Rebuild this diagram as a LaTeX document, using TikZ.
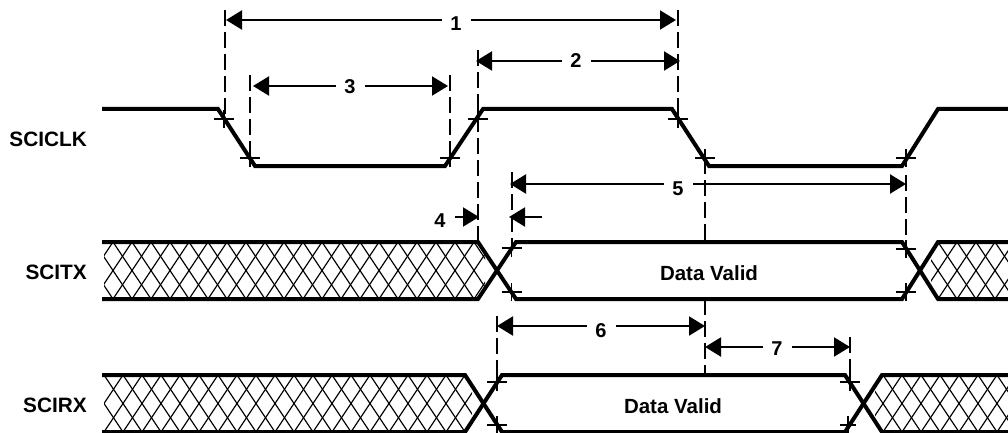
\documentclass[tikz,border=0pt]{standalone}
\usepackage{fontspec}
\setmainfont{Liberation Sans}
\usetikzlibrary{arrows.meta}
\tikzset{
  wave/.style={line width=4pt,line join=miter,line cap=butt},
  guide/.style={line width=2pt,dash pattern=on 16pt off 6pt},
  tickmark/.style={line width=1.6pt},
  hatchline/.style={line width=1.2pt,black},
  dim/.style={line width=2pt,-{Triangle[length=16pt,width=19pt]}},
  dimboth/.style={line width=2pt,{Triangle[length=16pt,width=19pt]}-{Triangle[length=16pt,width=19pt]}},
  numlabel/.style={fill=white,inner sep=0pt,minimum width=29pt,minimum height=20pt,font=\fontsize{20}{20}\bfseries},
  plainlabel/.style={inner sep=0pt,font=\fontsize{20}{20}\bfseries},
  siglabel/.style={anchor=east,inner sep=0pt,font=\fontsize{20.8}{21}\bfseries},
  datalabel/.style={inner sep=0pt,font=\fontsize{20.5}{21}\bfseries},
}
\newcommand{\tickat}[3]{\draw[tickmark] (#1-#3,#2)--(#1+#3,#2) (#1,#2-9)--(#1,#2+9);}
\newcommand{\hatch}[2]{%
  \pgfmathsetmacro{\ybot}{#1+57}%
  \foreach \k in {-4,...,52}{%
    \pgfmathsetmacro{\xa}{#2+19*\k}%
    \pgfmathsetmacro{\xb}{\xa+38}%
    \draw[hatchline] (\xa,#1)--(\xb,\ybot) (\xb,#1)--(\xa,\ybot);
  }}
\begin{document}
\begin{tikzpicture}[x=1pt,y=-1pt]
\useasboundingbox (0,0) rectangle (1008,433);
% hatching
\begin{scope}
  \clip (104,242)--(478,242)--(485,253)--(485,288)--(478,299)--(104,299)--cycle;
  \hatch{242}{113}
\end{scope}
\begin{scope}
  \clip (1008,242)--(938,242)--(931,253)--(931,288)--(938,299)--(1008,299)--cycle;
  \hatch{242}{102}
\end{scope}
\begin{scope}
  \clip (104,375)--(465,375)--(472,386)--(472,421)--(465,432)--(104,432)--cycle;
  \hatch{375}{104}
\end{scope}
\begin{scope}
  \clip (1008,375)--(882,375)--(875,386)--(875,421)--(882,432)--(1008,432)--cycle;
  \hatch{375}{104}
\end{scope}
% guides
\coordinate (g1t) at (224.5,10); \coordinate (g1b) at (224.5,118);
\coordinate (g3t) at (250,75);  \coordinate (g3b) at (250,158);
\coordinate (g3rt) at (450,75); \coordinate (g3rb) at (450,158);
\coordinate (g2t) at (478,50);  \coordinate (g2b) at (478,240);
\coordinate (g1rt) at (678,10); \coordinate (g1rb) at (678,119);
\coordinate (g5t) at (705,158);  \coordinate (g5m) at (705,242);
\coordinate (g5n) at (705,299);  \coordinate (g5b) at (705,375);
\coordinate (g4t) at (511.5,172); \coordinate (g4b) at (511.5,248);
\coordinate (g5rt) at (906,175); \coordinate (g5rb) at (906,249);
\coordinate (g6t) at (497,316); \coordinate (g6b) at (497,382);
\coordinate (g7t) at (850,337); \coordinate (g7b) at (850,382);
\foreach \a/\b in {g1t/g1b,g3t/g3b,g3rt/g3rb,g2t/g2b,g1rt/g1rb,g5t/g5m,g5n/g5b,g4t/g4b,g5rt/g5rb,g6t/g6b,g7t/g7b}
  \draw[guide] (\a)--(\b);
% waves
\draw[wave] (102,109)--(218,109)--(255,166)--(445,166)--(483,109)--(672,109)--(709,166)--(902,166)--(938,109)--(1008,109);
\draw[wave] (102,242)--(478,242)--(516,299)--(902,299)--(938,242)--(1008,242);
\draw[wave] (102,299)--(478,299)--(516,242)--(902,242)--(938,299)--(1008,299);
\draw[wave] (102,375)--(465,375)--(502,432)--(845,432)--(882,375)--(1008,375);
\draw[wave] (102,432)--(465,432)--(502,375)--(845,375)--(882,432)--(1008,432);
% ticks
\tickat{224}{119}{10}
\tickat{250}{158}{10}
\tickat{450}{158}{10}
\tickat{478}{119}{10}
\tickat{678}{119}{10}
\tickat{705}{158}{10}
\tickat{906}{158}{10}
\tickat{511.5}{248}{10}
\tickat{511.5}{292}{10}
\tickat{906}{249}{10}
\tickat{906}{292}{10}
\tickat{497}{382}{10}
\tickat{497}{425}{10}
\tickat{850}{382}{10}
\tickat{848}{425}{8}
% dimensions
\coordinate (a1l) at (226,20);  \coordinate (a1r) at (676,20);
\coordinate (a2l) at (476,61);  \coordinate (a2r) at (680,61);
\coordinate (a3l) at (253,86);  \coordinate (a3r) at (448,86);
\coordinate (a4l) at (455,217); \coordinate (a4r) at (479,217);
\coordinate (a4bl) at (542,217); \coordinate (a4br) at (509,217);
\coordinate (a5l) at (510,184); \coordinate (a5r) at (906,184);
\coordinate (a6l) at (497,326); \coordinate (a6r) at (705,326);
\coordinate (a7l) at (705,347); \coordinate (a7r) at (850,347);
\draw[dimboth] (a1l)--(a1r);
\draw[dimboth] (a2l)--(a2r);
\draw[dimboth] (a3l)--(a3r);
\draw[dim] (a4l)--(a4r);
\draw[dim] (a4bl)--(a4br);
\draw[dimboth] (a5l)--(a5r);
\draw[dimboth] (a6l)--(a6r);
\draw[dimboth] (a7l)--(a7r);
\node[numlabel] (n1) at (456,24) {1};
\node[numlabel] (n2) at (576,61) {2};
\node[numlabel] (n3) at (350,87) {3};
\node[plainlabel] (n4) at (440,221) {4};
\node[numlabel] (n5) at (678,189) {5};
\node[numlabel] (n6) at (601,331) {6};
\node[numlabel] (n7) at (777,349) {7};
\node[siglabel] (sclk) at (87,139) {SCICLK};
\node[siglabel] (stx) at (87,272) {SCITX};
\node[siglabel] (srx) at (87,405) {SCIRX};
\node[datalabel] (d1) at (709,273) {Data Valid};
\node[datalabel] (d2) at (673,406) {Data Valid};
\end{tikzpicture}
\end{document}
